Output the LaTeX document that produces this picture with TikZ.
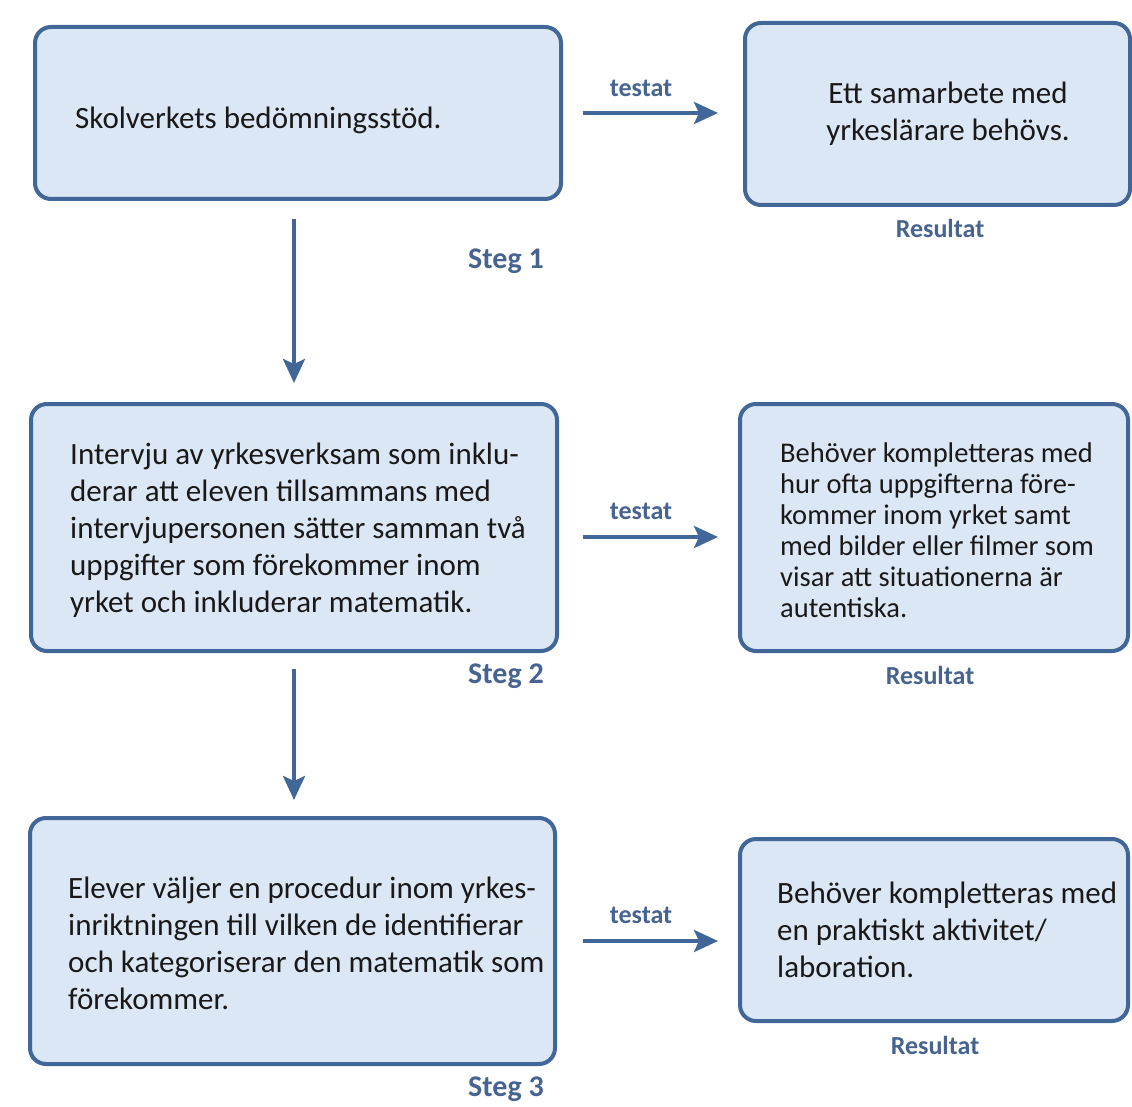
\documentclass[tikz,border=0pt]{standalone}
\usepackage{fontspec}
\setmainfont{Carlito}
\usetikzlibrary{arrows.meta}
\definecolor{boxline}{RGB}{65,103,152}
\definecolor{boxfill}{RGB}{220,231,245}
\definecolor{labtext}{RGB}{70,100,143}
\tikzset{
  stepbox/.style={draw=boxline, fill=boxfill, line width=4pt, rounded corners=16pt, inner sep=0pt},
  boxtext/.style={inner sep=0pt, align=left, anchor=west, text=black!90, font=\fontsize{31}{37}\selectfont},
  flow/.style={draw=boxline, line width=4pt, -{Stealth[length=24pt,width=22pt,inset=5pt]}},
  tag/.style={text=labtext, inner sep=0pt, font=\bfseries\fontsize{26}{30}\selectfont},
}
\begin{document}
\begin{tikzpicture}[x=1pt,y=-1pt]
    \useasboundingbox (0,0) rectangle (1132,1107);

    % steps on the left
    \node[stepbox, minimum width=526pt, minimum height=172pt] (s1) at (298,113) {};
    \node[stepbox, minimum width=526pt, minimum height=247pt] (s2) at (294,527.5) {};
    \node[stepbox, minimum width=525pt, minimum height=246pt] (s3) at (292.5,941) {};
    % results on the right
    \node[stepbox, minimum width=385pt, minimum height=182pt] (r1) at (937.5,114) {};
    \node[stepbox, minimum width=388pt, minimum height=247pt] (r2) at (934,527.5) {};
    \node[stepbox, minimum width=388pt, minimum height=182pt] (r3) at (934,930) {};

    \node[boxtext] (t1) at (75,120) {Skolverkets bedömningsstöd.};
    \node[boxtext, anchor=center, align=center] (u1) at (948,113.5) {Ett samarbete med\\yrkeslärare behövs.};
    \node[boxtext] (t2) at (70,530) {Intervju av yrkesverksam som inklu-\\derar att eleven tillsammans med\\intervjupersonen sätter samman två\\uppgifter som förekommer inom\\yrket och inkluderar matematik.};
    \node[boxtext, font=\fontsize{28.5}{31}\selectfont] (u2) at (780,530) {Behöver kompletteras med\\hur ofta uppgifterna före-\\kommer inom yrket samt\\med bilder eller filmer som\\visar att situationerna är\\autentiska.};
    \node[boxtext] (t3) at (68,943) {Elever väljer en procedur inom yrkes-\\inriktningen till vilken de identifierar\\och kategoriserar den matematik som\\förekommer.};
    \node[boxtext] (u3) at (777,930) {Behöver kompletteras med\\en praktiskt aktivitet/\\laboration.};

    \node[tag] (g1) at (641,88) {testat};
    \node[tag] (g2) at (641,511) {testat};
    \node[tag] (g3) at (641,915) {testat};
    \node[tag, font=\bfseries\fontsize{30}{34}\selectfont] (st1) at (506,261) {Steg 1};
    \node[tag, font=\bfseries\fontsize{30}{34}\selectfont] (st2) at (506,676) {Steg 2};
    \node[tag, font=\bfseries\fontsize{30}{34}\selectfont] (st3) at (506,1089) {Steg 3};
    \node[tag] (re1) at (940,228) {Resultat};
    \node[tag] (re2) at (930,675) {Resultat};
    \node[tag] (re3) at (935,1045) {Resultat};

    \draw (s2.north |- s1.south) edge[flow, shorten <=18pt, shorten >=19pt] (s2.north);
    \draw (s2.south) edge[flow, shorten <=16pt, shorten >=16pt] (s2.south |- s3.north);
    \draw (s1.east) edge[flow, shorten <=20pt, shorten >=25pt] (s1.east -| r1.west);
    \draw ([yshift=-9.5pt]s2.east) edge[flow, shorten <=24pt, shorten >=20pt] ([yshift=-9.5pt]s2.east -| r2.west);
    \draw (s3.east) edge[flow, shorten <=26pt, shorten >=20pt] (s3.east -| r3.west);
\end{tikzpicture}
\end{document}
